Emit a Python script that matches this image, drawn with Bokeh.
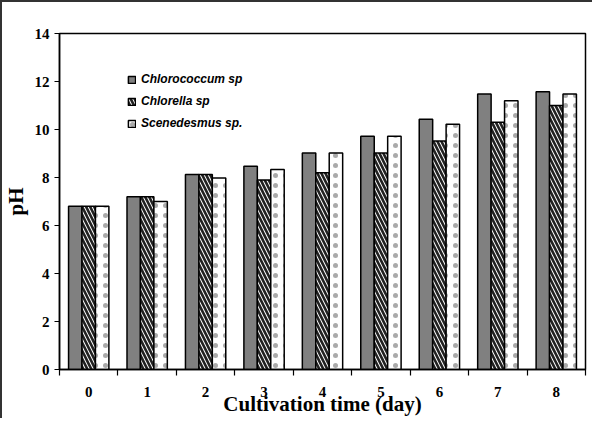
from bokeh.plotting import figure
from bokeh.models import ColumnDataSource, FixedTicker, Legend, LegendItem
from bokeh.transform import dodge
from bokeh.embed import file_html
from bokeh.resources import INLINE

days = [0, 1, 2, 3, 4, 5, 6, 7, 8]
chlorococcum = [6.8, 7.2, 8.12, 8.47, 9.02, 9.72, 10.43, 11.48, 11.57]
chlorella = [6.8, 7.2, 8.12, 7.9, 8.2, 9.02, 9.52, 10.3, 11.0]
scenedesmus = [6.8, 7.0, 7.98, 8.33, 9.02, 9.72, 10.22, 11.2, 11.48]
series_names = ["Chlorococcum sp", "Chlorella sp", "Scenedesmus sp."]
y_ticks = [0, 2, 4, 6, 8, 10, 12, 14]

src = ColumnDataSource(dict(day=days, a=chlorococcum, b=chlorella, c=scenedesmus))

p = figure(width=592, height=418, x_range=(-0.5, 8.5), y_range=(0, 14),
           output_backend="svg", toolbar_location=None,
           min_border_left=57, min_border_right=7, min_border_top=33, min_border_bottom=48)
p.border_fill_alpha = 0
p.background_fill_color = "white"
p.styles = {"box-shadow": "inset 2px 2px 0 #333", "background-color": "white"}
p.xgrid.visible = False
p.ygrid.visible = False
p.outline_line_color = "black"
p.outline_line_width = 1.5

bw = 0.23
r1 = p.vbar(x=dodge("day", -bw, range=p.x_range), top="a", width=bw, source=src,
            fill_color="#808080", line_color="black", line_width=1.5)
r2 = p.vbar(x=dodge("day", 0, range=p.x_range), top="b", width=bw, source=src,
            fill_color="white", line_color="black", line_width=1.5,
            hatch_pattern="left_diagonal_line", hatch_color="#222222",
            hatch_scale=8, hatch_weight=2.6)
r3 = p.vbar(x=dodge("day", bw, range=p.x_range), top="c", width=bw, source=src,
            fill_color="white", line_color="black", line_width=1.5,
            hatch_pattern="dot", hatch_color="#aaaaaa", hatch_scale=10, hatch_weight=0.3)

xa = p.xaxis[0]
xa.ticker = FixedTicker(ticks=days, minor_ticks=[d - 0.5 for d in days] + [8.5])
xa.major_tick_out = 0
xa.major_tick_in = 0
xa.minor_tick_out = 6
xa.minor_tick_in = 0
xa.minor_tick_line_color = "black"
xa.minor_tick_line_width = 1.2
xa.axis_line_width = 1.5
xa.major_label_standoff = 11
xa.major_label_text_font = "Liberation Serif"
xa.major_label_text_font_style = "bold"
xa.major_label_text_font_size = "15px"
xa.major_label_text_color = "black"
xa.axis_label = "Cultivation time (day)"
xa.axis_label_standoff = -8
xa.axis_label_text_font = "Liberation Serif"
xa.axis_label_text_font_style = "bold"
xa.axis_label_text_font_size = "21px"
xa.axis_label_text_color = "black"

ya = p.yaxis[0]
ya.ticker = FixedTicker(ticks=y_ticks)
ya.major_tick_out = 5
ya.major_tick_in = 0
ya.major_tick_line_width = 1.2
ya.axis_line_width = 1.5
ya.major_label_standoff = 5
ya.major_label_text_font = "Liberation Serif"
ya.major_label_text_font_style = "bold"
ya.major_label_text_font_size = "15px"
ya.major_label_text_color = "black"
ya.axis_label = "pH"
ya.axis_label_standoff = 4
ya.axis_label_text_font = "Liberation Serif"
ya.axis_label_text_font_style = "bold"
ya.axis_label_text_font_size = "21px"
ya.axis_label_text_color = "black"

legend = Legend(items=[LegendItem(label=series_names[0], renderers=[r1]),
                       LegendItem(label=series_names[1], renderers=[r2]),
                       LegendItem(label=series_names[2], renderers=[r3])],
                location=(68, 239), orientation="vertical",
                glyph_width=9, glyph_height=9, label_height=12, spacing=8,
                label_standoff=5, padding=0, margin=0,
                background_fill_alpha=0, border_line_alpha=0,
                label_text_font="Liberation Sans", label_text_font_style="bold italic",
                label_text_font_size="12px", label_text_color="black")
p.add_layout(legend, "center")

open("out.html", "w").write(file_html(p, INLINE))
